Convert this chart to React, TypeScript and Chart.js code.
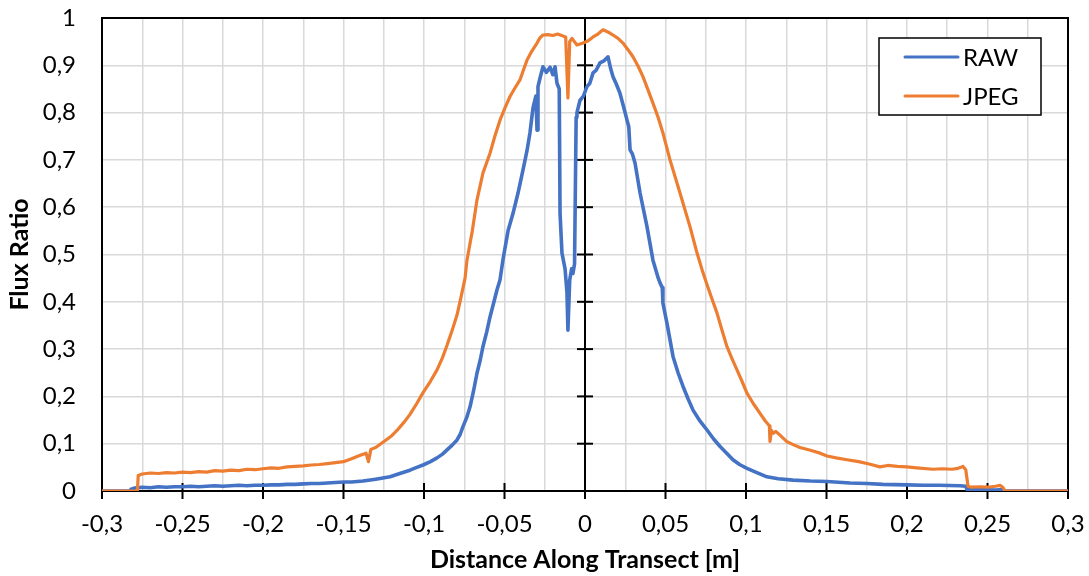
import React, { useEffect, useRef } from 'react';
import { Chart, registerables } from 'chart.js';

Chart.register(...registerables);

// ---- axis ranges / ticks ----
const xMin = -0.3;
const xMax = 0.3;
const xGridStep = 0.025;
const xLabelStep = 0.05;
const yMin = 0;
const yMax = 1;
const yStep = 0.1;

const xTitle = 'Distance Along Transect [m]';
const yTitle = 'Flux Ratio';
const seriesNames = ['RAW', 'JPEG'];
const seriesColors = ['#4472C4', '#ED7D31'];

// ---- RAW series ----
const rawX = [
  -0.3, -0.2825, -0.282, -0.28, -0.275, -0.27, -0.265, -0.26, -0.255, -0.25,
  -0.245, -0.24, -0.235, -0.23, -0.225, -0.22, -0.215, -0.21, -0.205, -0.2,
  -0.195, -0.19, -0.185, -0.18, -0.175, -0.17, -0.165, -0.16, -0.155, -0.15,
  -0.145, -0.1379, -0.13, -0.1211, -0.115, -0.1087, -0.1045, -0.1006, -0.096, -0.0919,
  -0.0885, -0.0857, -0.0825, -0.0795, -0.0775, -0.0758, -0.0735, -0.0714, -0.0692, -0.0671,
  -0.065, -0.0634, -0.061, -0.059, -0.0567, -0.0547, -0.0528, -0.0509, -0.0478, -0.0447,
  -0.0416, -0.0385, -0.036, -0.0342, -0.0323, -0.0305, -0.0298, -0.0292, -0.028, -0.0261,
  -0.024, -0.0217, -0.02, -0.0186, -0.0174, -0.016, -0.0155, -0.0143, -0.0124, -0.0112,
  -0.0106, -0.0095, -0.0083, -0.0075, -0.0065, -0.0055, -0.005, -0.0031, -0.001, 0.0012,
  0.003, 0.005, 0.007, 0.0093, 0.012, 0.0143, 0.016, 0.0174, 0.0195, 0.0217,
  0.024, 0.0261, 0.0272, 0.028, 0.0295, 0.0311, 0.0342, 0.0385, 0.0422, 0.0455,
  0.0466, 0.048, 0.0484, 0.0509, 0.0547, 0.0578, 0.0609, 0.064, 0.0671, 0.071,
  0.0758, 0.0799, 0.0839, 0.088, 0.0919, 0.096, 0.1006, 0.106, 0.113, 0.12,
  0.1292, 0.14, 0.1503, 0.1646, 0.175, 0.185, 0.2, 0.21, 0.22, 0.233,
  0.2365, 0.2373, 0.245, 0.255, 0.2595, 0.2605, 0.3,
];
const rawY = [
  0, 0, 0.004, 0.006, 0.008, 0.007, 0.009, 0.008, 0.009, 0.009,
  0.01, 0.009, 0.01, 0.011, 0.01, 0.011, 0.012, 0.011, 0.012, 0.012,
  0.013, 0.013, 0.014, 0.014, 0.015, 0.016, 0.016, 0.017, 0.018, 0.019,
  0.019, 0.021, 0.025, 0.03, 0.037, 0.044, 0.05, 0.055, 0.062, 0.07,
  0.078, 0.087, 0.097, 0.108, 0.12, 0.136, 0.155, 0.178, 0.212, 0.249,
  0.278, 0.305, 0.337, 0.368, 0.398, 0.425, 0.446, 0.49, 0.55, 0.587,
  0.63, 0.679, 0.72, 0.757, 0.81, 0.835, 0.763, 0.855, 0.872, 0.897,
  0.885, 0.896, 0.88, 0.897, 0.862, 0.85, 0.587, 0.503, 0.47, 0.42,
  0.34, 0.446, 0.47, 0.46, 0.48, 0.79, 0.8, 0.826, 0.835, 0.855,
  0.862, 0.884, 0.89, 0.905, 0.91, 0.918, 0.892, 0.876, 0.86, 0.841,
  0.812, 0.784, 0.77, 0.721, 0.712, 0.693, 0.63, 0.559, 0.488, 0.45,
  0.44, 0.43, 0.397, 0.355, 0.284, 0.25, 0.221, 0.195, 0.171, 0.15,
  0.129, 0.11, 0.094, 0.08, 0.066, 0.056, 0.048, 0.04, 0.03, 0.026,
  0.023, 0.021, 0.02, 0.017, 0.016, 0.014, 0.013, 0.012, 0.012, 0.011,
  0.01, 0.003, 0.003, 0.002, 0.003, 0, 0,
];

// ---- JPEG series ----
const jpegX = [
  -0.3, -0.278, -0.2775, -0.275, -0.27, -0.265, -0.26, -0.255, -0.25, -0.245,
  -0.24, -0.235, -0.23, -0.225, -0.22, -0.215, -0.21, -0.205, -0.2, -0.195,
  -0.19, -0.185, -0.18, -0.175, -0.17, -0.165, -0.16, -0.155, -0.15, -0.145,
  -0.14, -0.136, -0.1345, -0.133, -0.13, -0.1255, -0.12, -0.1168, -0.1125, -0.1087,
  -0.1045, -0.1006, -0.096, -0.0919, -0.0885, -0.0857, -0.0825, -0.0795, -0.077, -0.0745,
  -0.0733, -0.07, -0.0671, -0.0634, -0.059, -0.056, -0.0528, -0.0497, -0.0466, -0.0435,
  -0.0404, -0.038, -0.036, -0.033, -0.0298, -0.028, -0.0261, -0.023, -0.02, -0.017,
  -0.0137, -0.012, -0.0106, -0.0095, -0.0081, -0.005, -0.0012, 0.002, 0.005, 0.008,
  0.0112, 0.0145, 0.0174, 0.0205, 0.0236, 0.0267, 0.0298, 0.033, 0.036, 0.039,
  0.0422, 0.0455, 0.0484, 0.0528, 0.059, 0.0652, 0.0696, 0.0727, 0.0758, 0.079,
  0.082, 0.0851, 0.0882, 0.0913, 0.0944, 0.0975, 0.1006, 0.1045, 0.1087, 0.112,
  0.1145, 0.1149, 0.1158, 0.117, 0.1185, 0.1211, 0.1255, 0.13, 0.1335, 0.14,
  0.146, 0.1503, 0.156, 0.1627, 0.17, 0.1765, 0.1832, 0.188, 0.194, 0.2,
  0.206, 0.2161, 0.222, 0.228, 0.2317, 0.2348, 0.2365, 0.2379, 0.24, 0.245,
  0.25, 0.255, 0.2578, 0.2595, 0.2609, 0.3,
];
const jpegY = [
  0, 0, 0.033, 0.036, 0.038, 0.037, 0.039, 0.038, 0.04, 0.039,
  0.041, 0.04, 0.043, 0.042, 0.044, 0.043, 0.046, 0.045, 0.047, 0.049,
  0.048, 0.051, 0.052, 0.053, 0.055, 0.056, 0.058, 0.06, 0.062, 0.068,
  0.075, 0.08, 0.062, 0.088, 0.092, 0.103, 0.117, 0.128, 0.145, 0.162,
  0.185, 0.208, 0.232, 0.256, 0.282, 0.308, 0.34, 0.372, 0.41, 0.45,
  0.488, 0.55, 0.615, 0.672, 0.714, 0.75, 0.784, 0.81, 0.834, 0.852,
  0.869, 0.892, 0.911, 0.93, 0.947, 0.958, 0.964, 0.965, 0.963, 0.966,
  0.962, 0.96, 0.831, 0.95, 0.957, 0.943, 0.947, 0.952, 0.96, 0.966,
  0.975, 0.97, 0.964, 0.957, 0.947, 0.933, 0.918, 0.898, 0.876, 0.849,
  0.82, 0.789, 0.757, 0.7, 0.63, 0.559, 0.503, 0.468, 0.436, 0.405,
  0.376, 0.34, 0.305, 0.28, 0.256, 0.232, 0.207, 0.185, 0.164, 0.148,
  0.138, 0.105, 0.128, 0.122, 0.126, 0.118, 0.104, 0.097, 0.092, 0.086,
  0.08, 0.074, 0.07, 0.066, 0.062, 0.057, 0.051, 0.054, 0.052, 0.051,
  0.049, 0.046, 0.047, 0.046, 0.048, 0.052, 0.045, 0.01, 0.008, 0.009,
  0.008, 0.01, 0.012, 0.008, 0, 0,
];

const FONT = 'Lato, "Open Sans", sans-serif';

function fmt(v: number): string {
  const r = Math.round(v * 1000) / 1000;
  return String(r).replace('.', ',');
}
function isMultiple(v: number, step: number): boolean {
  return Math.abs(Math.round(v / step) * step - v) < 1e-7;
}
function zeroPadding(s: any) {
  s.paddingTop = 0;
  s.paddingBottom = 0;
  s.paddingLeft = 0;
  s.paddingRight = 0;
}

const axesPlugin = {
  id: 'excelAxes',
  beforeDatasetsDraw(chart: any) {
    const { ctx, chartArea, scales } = chart;
    const { left, right, top, bottom } = chartArea;
    const xs = scales.x;
    const ys = scales.y;
    ctx.save();
    ctx.strokeStyle = '#000';
    ctx.lineWidth = 2;
    ctx.lineCap = 'butt';
    ctx.beginPath();
    ctx.rect(left, top, right - left, bottom - top);
    ctx.stroke();
    const x0 = xs.getPixelForValue(0);
    ctx.beginPath();
    ctx.moveTo(x0, top);
    ctx.lineTo(x0, bottom);
    ctx.stroke();
    ys.ticks.forEach((t: any) => {
      const py = ys.getPixelForValue(t.value);
      ctx.beginPath();
      ctx.moveTo(x0 - 8, py);
      ctx.lineTo(x0 + 8, py);
      ctx.stroke();
    });
    xs.ticks.forEach((t: any) => {
      if (!isMultiple(t.value, xLabelStep)) return;
      const px = xs.getPixelForValue(t.value);
      ctx.beginPath();
      ctx.moveTo(px, bottom - 8);
      ctx.lineTo(px, bottom + 8);
      ctx.stroke();
    });
    ctx.restore();
  },
};

const legendPlugin = {
  id: 'insideLegend',
  afterDraw(chart: any) {
    const { ctx, chartArea } = chart;
    const bw = 162;
    const bh = 77;
    const bx = chartArea.right - 27 - bw;
    const by = chartArea.top + 20;
    ctx.save();
    ctx.fillStyle = '#fff';
    ctx.fillRect(bx, by, bw, bh);
    ctx.strokeStyle = '#000';
    ctx.lineWidth = 1.5;
    ctx.strokeRect(bx, by, bw, bh);
    ctx.font = `24px ${FONT}`;
    ctx.textBaseline = 'middle';
    ctx.textAlign = 'left';
    seriesNames.forEach((name, i) => {
      const cy = by + 19 + i * 39;
      ctx.strokeStyle = seriesColors[i];
      ctx.lineWidth = 3;
      ctx.lineCap = 'round';
      ctx.beginPath();
      ctx.moveTo(bx + 26, cy);
      ctx.lineTo(bx + 79, cy);
      ctx.stroke();
      ctx.fillStyle = '#000';
      ctx.fillText(name, bx + 84, cy + 1);
    });
    ctx.restore();
  },
};

export default function App() {
  const canvasRef = useRef<HTMLCanvasElement | null>(null);

  useEffect(() => {
    document.body.style.margin = '0';
    const canvas = canvasRef.current;
    if (!canvas) return;
    const toPts = (xs: number[], ys: number[]) => xs.map((x, i) => ({ x, y: ys[i] }));
    const chart = new Chart(canvas, {
      type: 'line',
      data: {
        datasets: [
          {
            label: seriesNames[0],
            data: toPts(rawX, rawY),
            borderColor: seriesColors[0],
            backgroundColor: seriesColors[0],
            borderWidth: 3.6,
            pointRadius: 0,
            tension: 0,
            fill: false,
            order: 1,
            borderJoinStyle: 'round',
            borderCapStyle: 'round',
          },
          {
            label: seriesNames[1],
            data: toPts(jpegX, jpegY),
            borderColor: seriesColors[1],
            backgroundColor: seriesColors[1],
            borderWidth: 3.2,
            pointRadius: 0,
            tension: 0,
            fill: false,
            order: 0,
            borderJoinStyle: 'round',
            borderCapStyle: 'round',
          },
        ],
      },
      options: {
        responsive: false,
        animation: false,
        layout: { padding: { top: 18, right: 21, left: 0, bottom: 0 } },
        plugins: {
          legend: { display: false },
          tooltip: { enabled: false },
        },
        scales: {
          x: {
            type: 'linear',
            min: xMin,
            max: xMax,
            afterFit: (s: any) => {
              s.height = 85;
              zeroPadding(s);
            },
            ticks: {
              stepSize: xGridStep,
              autoSkip: false,
              maxTicksLimit: 100,
              maxRotation: 0,
              padding: 19,
              color: '#000',
              font: { family: FONT, size: 24 },
              callback: (v: any) => (isMultiple(Number(v), xLabelStep) ? fmt(Number(v)) : ''),
            },
            grid: {
              drawTicks: false,
              lineWidth: 1.5,
              color: (c: any) => {
                const v = c.tick ? c.tick.value : NaN;
                if (Math.abs(v) < 1e-7 || Math.abs(Math.abs(v) - 0.3) < 1e-7) return 'rgba(0,0,0,0)';
                return '#d9d9d9';
              },
            },
            border: { display: false },
            title: {
              display: true,
              text: xTitle,
              color: '#000',
              font: { family: FONT, size: 25, weight: 'bold' },
              padding: { top: 0, bottom: 1 },
            },
          },
          y: {
            type: 'linear',
            min: yMin,
            max: yMax,
            afterFit: (s: any) => {
              s.width = 102;
              zeroPadding(s);
            },
            ticks: {
              stepSize: yStep,
              padding: 26,
              color: '#000',
              font: { family: FONT, size: 24 },
              callback: (v: any) => fmt(Number(v)),
            },
            grid: {
              drawTicks: false,
              lineWidth: 1.5,
              color: (c: any) => {
                const v = c.tick ? c.tick.value : NaN;
                if (Math.abs(v) < 1e-7 || Math.abs(v - 1) < 1e-7) return 'rgba(0,0,0,0)';
                return '#d9d9d9';
              },
            },
            border: { display: false },
            title: {
              display: true,
              text: yTitle,
              color: '#000',
              font: { family: FONT, size: 25, weight: 'bold' },
              padding: { top: 5, bottom: 0 },
            },
          },
        },
      },
      plugins: [axesPlugin, legendPlugin],
    } as any);
    return () => chart.destroy();
  }, []);

  return (
    <div style={{ position: 'absolute', left: 0, top: 0, width: 1089, height: 576, background: '#fff' }}>
      <canvas ref={canvasRef} width={1089} height={576} style={{ display: 'block' }} />
    </div>
  );
}
